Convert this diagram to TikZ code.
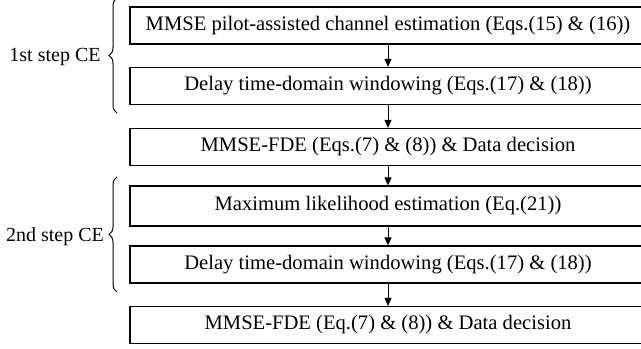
\documentclass[tikz,border=0pt]{standalone}
\usepackage{fontspec}
\setmainfont{Liberation Serif}
\usetikzlibrary{decorations.pathreplacing,arrows.meta}
\begin{document}
\begin{tikzpicture}[x=0.5pt,y=-0.5pt,
  stepbox/.style={draw,line width=0.6pt,minimum width=258pt,minimum height=18.5pt,inner sep=0pt,font=\fontsize{10.3}{12}\selectfont},
  flow/.style={-{Triangle[length=4pt,width=3.5pt]},line width=0.5pt},
  lbl/.style={font=\fontsize{10}{12}\selectfont,inner sep=0pt},
  brc/.style={decorate,decoration={brace,amplitude=4pt,aspect=0.5},line width=0.5pt}]
\useasboundingbox (0,0) rectangle (641,348);
\clip (0,0) rectangle (641,348);
\node[stepbox] (b1) at (388,25.5) {MMSE pilot-assisted channel estimation (Eqs.(15) \& (16))};
\node[stepbox] (b2) at (388,86) {Delay time-domain windowing (Eqs.(17) \& (18))};
\node[stepbox] (b3) at (388,147) {MMSE-FDE (Eqs.(7) \& (8)) \& Data decision};
\node[stepbox,minimum height=20pt] (b4) at (388,206) {Maximum likelihood estimation (Eq.(21))};
\node[stepbox] (b5) at (388,264.5) {Delay time-domain windowing (Eqs.(17) \& (18))};
\node[stepbox] (b6) at (388,325) {MMSE-FDE (Eq.(7) \& (8)) \& Data decision};
\draw[flow] (b1) -- (b2);
\draw[flow] (b2) -- (b3);
\draw[flow] (b3) -- (b4);
\draw[flow] (b4) -- (b5);
\draw[flow] (b5) -- (b6);
\coordinate (t1) at (117,-2);
\coordinate (e1) at (117,113);
\coordinate (t2) at (117,177);
\coordinate (e2) at (117,292);
\draw[brc] (e1) -- (t1);
\draw[brc] (e2) -- (t2);
\node[lbl] (l1) at (55,57) {1st step CE};
\node[lbl] (l2) at (55,237) {2nd step CE};
\end{tikzpicture}
\end{document}
